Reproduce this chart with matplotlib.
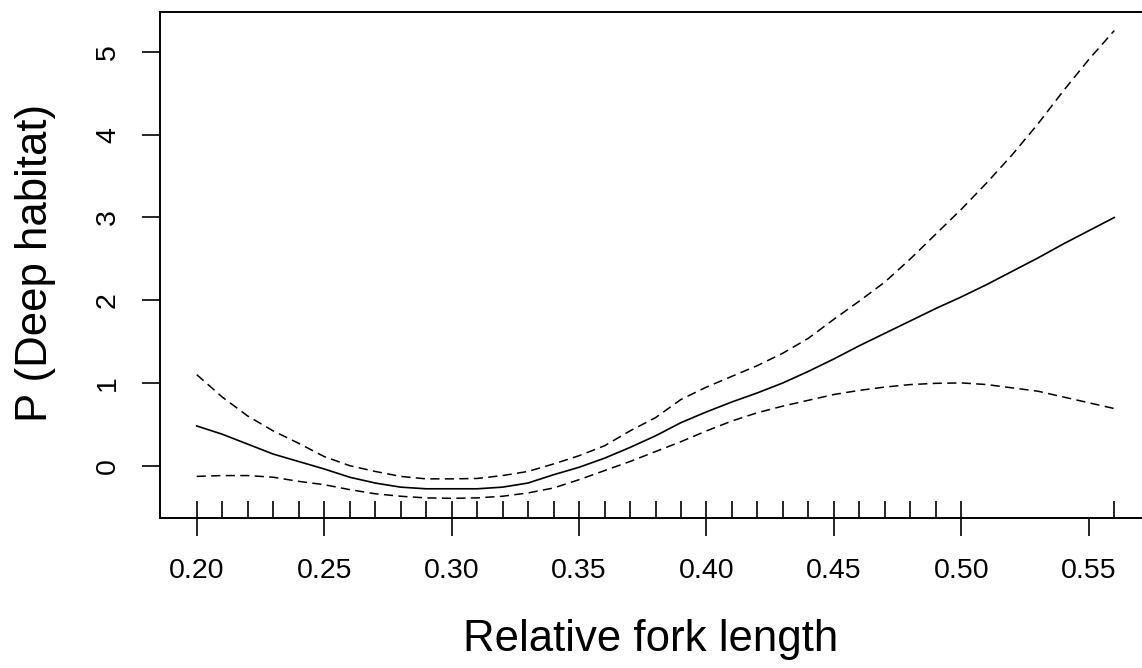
import matplotlib
matplotlib.use("Agg")
import matplotlib.pyplot as plt
import numpy as np

plt.rcParams['font.family'] = ['Liberation Sans', 'DejaVu Sans']

# Relative fork length grid
x_vals = [0.20, 0.21, 0.22, 0.23, 0.24, 0.25, 0.26, 0.27, 0.28, 0.29,
          0.30, 0.31, 0.32, 0.33, 0.34, 0.35, 0.36, 0.37, 0.38, 0.39,
          0.40, 0.41, 0.42, 0.43, 0.44, 0.45, 0.46, 0.47, 0.48, 0.49,
          0.50, 0.51, 0.52, 0.53, 0.54, 0.55, 0.56]

# Smooth fit
fit = [0.48, 0.38, 0.26, 0.14, 0.05, -0.04, -0.14, -0.21, -0.26, -0.28,
       -0.28, -0.28, -0.26, -0.21, -0.11, -0.02, 0.09, 0.22, 0.36, 0.52,
       0.65, 0.77, 0.88, 1.00, 1.14, 1.29, 1.45, 1.60, 1.75, 1.90,
       2.04, 2.19, 2.35, 2.51, 2.68, 2.84, 3.00]

# Upper confidence band
upper = [1.10, 0.83, 0.60, 0.42, 0.27, 0.11, 0.00, -0.07, -0.13, -0.16,
         -0.16, -0.155, -0.12, -0.07, 0.02, 0.12, 0.24, 0.42, 0.58, 0.80,
         0.95, 1.08, 1.21, 1.36, 1.54, 1.77, 1.99, 2.22, 2.50, 2.80,
         3.10, 3.42, 3.76, 4.13, 4.53, 4.91, 5.26]

# Lower confidence band
lower = [-0.13, -0.12, -0.12, -0.14, -0.19, -0.23, -0.29, -0.34, -0.37, -0.39,
         -0.395, -0.39, -0.37, -0.33, -0.27, -0.17, -0.06, 0.05, 0.17, 0.29,
         0.42, 0.54, 0.64, 0.72, 0.79, 0.86, 0.91, 0.95, 0.98, 0.995,
         1.00, 0.98, 0.94, 0.90, 0.83, 0.76, 0.69]

# Rug (observed covariate values)
rug_x = [0.20, 0.21, 0.22, 0.23, 0.24, 0.25, 0.26, 0.27, 0.28, 0.29,
         0.30, 0.31, 0.32, 0.33, 0.34, 0.35, 0.36, 0.37, 0.38, 0.39,
         0.40, 0.41, 0.42, 0.43, 0.44, 0.45, 0.46, 0.47, 0.48, 0.49,
         0.50, 0.56]

x_ticks = [0.20, 0.25, 0.30, 0.35, 0.40, 0.45, 0.50, 0.55]
x_ticklabels = ["0.20", "0.25", "0.30", "0.35", "0.40", "0.45", "0.50", "0.55"]
y_ticks = [0, 1, 2, 3, 4, 5]
y_ticklabels = ["0", "1", "2", "3", "4", "5"]

W, H = 1142, 668
fig = plt.figure(figsize=(W / 100, H / 100), dpi=100)
left, right, top, bottom = 160, 1151, 12, 518
ax = fig.add_axes([left / W, 1 - bottom / H, (right - left) / W, (bottom - top) / H])

ax.plot(x_vals, fit, color='black', lw=1.2, solid_joinstyle='round')
ax.plot(x_vals, upper, color='black', lw=1.1, dashes=(6, 3.5))
ax.plot(x_vals, lower, color='black', lw=1.1, dashes=(6, 3.5))

ax.vlines(rug_x, 0, 0.033, transform=ax.get_xaxis_transform(), color='black', lw=1.2)

ax.set_xlim(0.1856, 0.5744)
ax.set_ylim(-0.633, 5.484)

ax.set_xticks(x_ticks)
ax.set_xticklabels(x_ticklabels)
ax.set_yticks(y_ticks)
ax.set_yticklabels(y_ticklabels)
ax.tick_params(axis='both', direction='out', length=13, width=1.2, labelsize=20.5,
               colors='black')
ax.tick_params(axis='x', pad=16)
ax.tick_params(axis='y', pad=15)
for lab in ax.get_yticklabels():
    lab.set_rotation(90)
    lab.set_va('center')

for s in ax.spines.values():
    s.set_linewidth(1.4)
    s.set_color('black')

fig.text(651 / W, 1 - 640 / H, "Relative fork length", ha='center', va='center',
         fontsize=31.5)
fig.text(36 / W, 1 - 263 / H, "P (Deep habitat)", ha='center', va='center',
         fontsize=31.5, rotation=90)

fig.savefig("out.png", dpi=100)
